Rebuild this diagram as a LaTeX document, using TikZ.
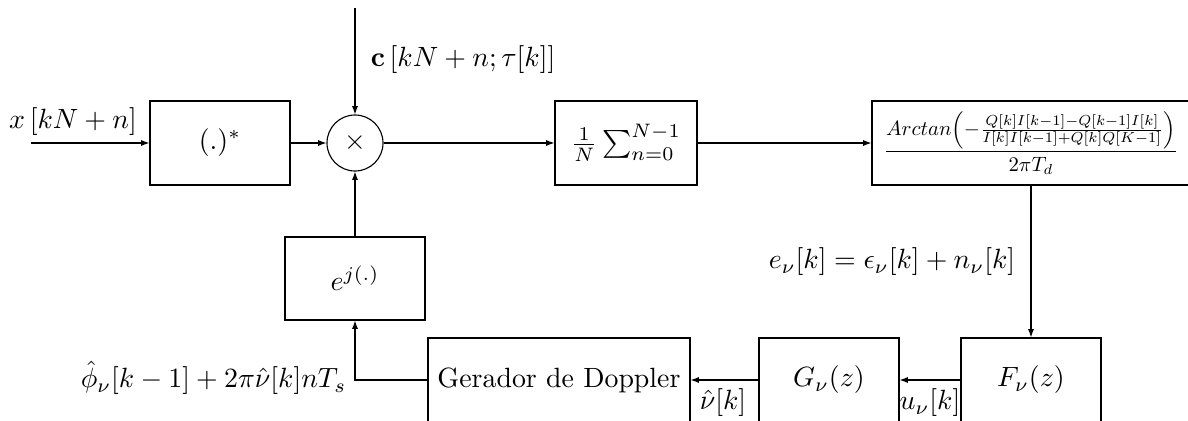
\documentclass[tikz,border=0pt]{standalone}
\usepackage{amsmath,amssymb}
\usepackage{graphicx}
\usepackage{tikz}
\usetikzlibrary{arrows.meta,positioning}

\begin{document}
\begin{tikzpicture}[x=0.01262cm,y=-0.01262cm,
  block/.style={draw,minimum width=1.767cm,minimum height=1.06cm,inner sep=2pt},
  sig/.style={-{Latex[length=3pt,width=2.2pt]}}]
  \useasboundingbox (0,0) rectangle (1188,421);
  % forward path
  \coordinate (xin) at (31,143);
  \coordinate (cin) at (355,8);
  \node[block] (conj) at (220,143) {$(.)^*$};
  \node[draw,circle,minimum size=0.707cm,inner sep=0pt] (mult) at (355,143) {$\times$};
  \node[block,minimum width=1.792cm] (avg) at (626,143) {$\frac{1}{N}\sum_{n=0}^{N-1}$};
  \node[block,minimum width=4.013cm] (disc) at (1031,143) {\resizebox{3.72cm}{!}{$\displaystyle\frac{Arctan\!\left(-\frac{Q[k]I[k-1]-Q[k-1]I[k]}{I[k]I[k-1]+Q[k]Q[K-1]}\right)}{2\pi T_d}$}};
  % feedback path
  \node[block] (loopf) at (1031,380) {$F_\nu(z)$};
  \node[block] (nco) at (829,380) {$G_\nu(z)$};
  \node[block,minimum width=3.306cm] (dop) at (559,380) {Gerador de Doppler};
  \node[block,minimum height=1.047cm] (expo) at (355,278.5) {$e^{j(.)}$};
  \coordinate (bend) at (355,380);
  % labels
  \node (xlbl) at (73,122) {$x\left[kN+n\right]$};
  \node[anchor=west] (clbl) at (361,60) {$\mathbf{c}\left[kN+n;\tau[k]\right]$};
  \node[anchor=east] (elbl) at (1025,262) {$e_\nu[k]=\epsilon_\nu[k]+n_\nu[k]$};
  \node (ulbl) at (930,403) {$u_\nu[k]$};
  \node (nulbl) at (723,403) {$\hat{\nu}[k]$};
  \node[anchor=east] (philbl) at (356,378) {$\hat{\phi}_\nu[k-1]+2\pi\hat{\nu}[k]nT_s$};

  \draw[sig] (xin) -- (conj);
  \draw[sig] (conj) -- (mult);
  \draw[sig] (cin) -- (mult);
  \draw[sig] (mult) -- (avg);
  \draw[sig] (avg) -- (disc);
  \draw[sig] (disc) -- (loopf);
  \draw[sig] (loopf) -- (nco);
  \draw[sig] (nco) -- (dop);
  \draw[sig] (dop.west) -- (bend) -- (expo);
  \draw[sig] (expo) -- (mult);
\end{tikzpicture}
\end{document}
